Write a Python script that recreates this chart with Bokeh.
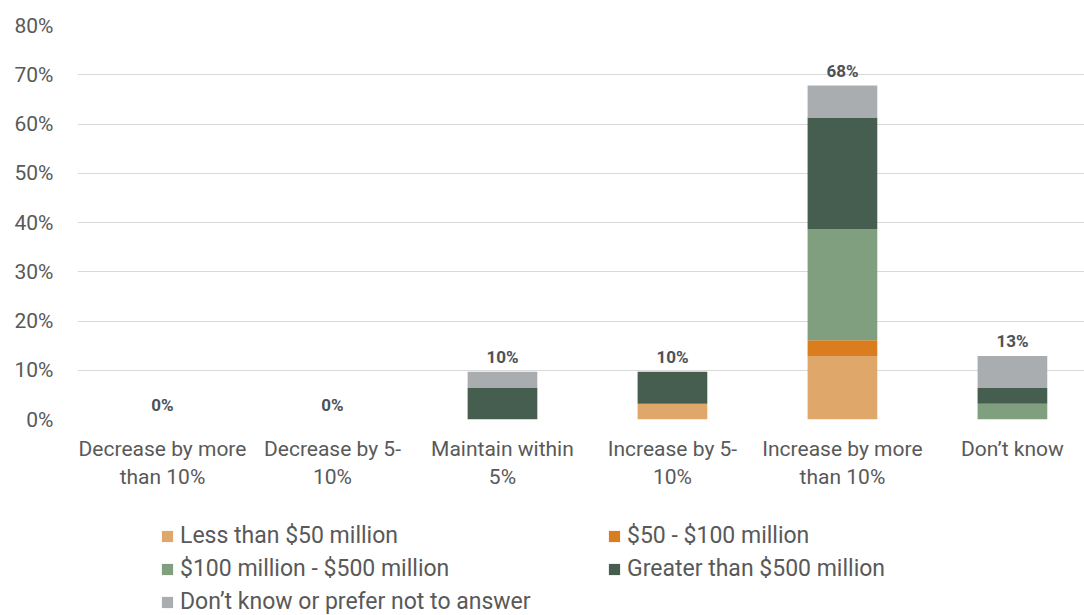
from bokeh.plotting import figure
from bokeh.layouts import column
from bokeh.models import Range1d, FixedTicker, Legend, LegendItem, ColumnDataSource
from bokeh.core.properties import value
from bokeh.embed import file_html
from bokeh.resources import INLINE

categories = ["Decrease by more\nthan 10%", "Decrease by 5-\n10%", "Maintain within\n5%",
              "Increase by 5-\n10%", "Increase by more\nthan 10%", "Don\u2019t know"]
series_names = ["Less than $50 million", "$50 - $100 million", "$100 million - $500 million",
                "Greater than $500 million", "Don\u2019t know or prefer not to answer"]
less_50 = [0, 0, 0, 3.2, 12.9, 0]
m50_100 = [0, 0, 0, 0, 3.2, 0]
m100_500 = [0, 0, 0, 0, 22.6, 3.2]
greater_500 = [0, 0, 6.5, 6.5, 22.6, 3.2]
dont_know = [0, 0, 3.2, 0, 6.5, 6.5]
y_ticks = [0, 10, 20, 30, 40, 50, 60, 70, 80]
colors = ["#DFA86A", "#D97D1E", "#7F9F7E", "#465E4F", "#A9ADB0"]

FONT = "Roboto"
xs = list(range(len(categories)))
keys = ["s0", "s1", "s2", "s3", "s4"]
data = dict(x=xs, s0=less_50, s1=m50_100, s2=m100_500, s3=greater_500, s4=dont_know)
totals = [sum(v) for v in zip(less_50, m50_100, m100_500, greater_500, dont_know)]
data["total"] = totals
data["label"] = ["%d%%" % round(t) for t in totals]
src = ColumnDataSource(data)

p = figure(width=1084, height=515, output_backend="svg", toolbar_location=None,
           x_range=Range1d(-0.5, 5.424), y_range=Range1d(0, 80),
           min_border_left=77, min_border_right=0, min_border_top=25, min_border_bottom=96)
p.outline_line_color = None
p.background_fill_color = "white"

rs = p.vbar_stack(keys, x="x", width=0.41, color=colors, source=src, line_color=None)

p.text(x="x", y="total", text="label", source=src, y_offset=-15,
       text_align="center", text_baseline="middle", text_font=value(FONT),
       text_font_style="bold", text_font_size="17px", text_color="#4D5257")

p.xaxis.ticker = FixedTicker(ticks=xs)
p.xaxis.major_label_overrides = {i: c for i, c in enumerate(categories)}
p.yaxis.ticker = FixedTicker(ticks=y_ticks)
p.yaxis.major_label_overrides = {t: "%d%%" % t for t in y_ticks}
for ax in (p.xaxis, p.yaxis):
    ax.axis_line_color = None
    ax.major_tick_line_color = None
    ax.minor_tick_line_color = None
    ax.major_tick_out = 0
    ax.major_tick_in = 0
    ax.major_label_text_font = FONT
    ax.major_label_text_font_size = "21px"
    ax.major_label_text_color = "#595959"
p.yaxis.major_label_standoff = 24
p.xaxis.major_label_standoff = 17
p.xgrid.grid_line_color = None
p.ygrid.ticker = FixedTicker(ticks=y_ticks)
p.ygrid.grid_line_color = "#D9D9D9"
p.ygrid.grid_line_width = 1

# legend panel: the same stacked bars, drawn outside this panel's visible range,
# serve only as legend swatches
lp = figure(width=1084, height=100, output_backend="svg", toolbar_location=None,
            x_range=Range1d(100, 101), y_range=Range1d(100, 101),
            min_border_left=77, min_border_right=0, min_border_top=0, min_border_bottom=0)
lp.axis.visible = False
lp.grid.visible = False
lp.outline_line_color = None
proxies = lp.vbar_stack(keys, x="x", width=0.41, color=colors, source=src, line_color=None)

items = [LegendItem(label=n, renderers=[r]) for n, r in zip(series_names, proxies)]
legend = Legend(items=items, orientation="horizontal", ncols=2, location=(83, 0),
                label_text_font=FONT, label_text_font_size="23px", label_text_color="#595959",
                glyph_width=14, glyph_height=14, label_standoff=6, label_width=421,
                spacing=6, padding=0, margin=0, border_line_color=None,
                background_fill_alpha=0, label_height=22)
lp.add_layout(legend, "center")

layout = column(p, lp, spacing=0)
open("out.html", "w").write(file_html(layout, INLINE))
